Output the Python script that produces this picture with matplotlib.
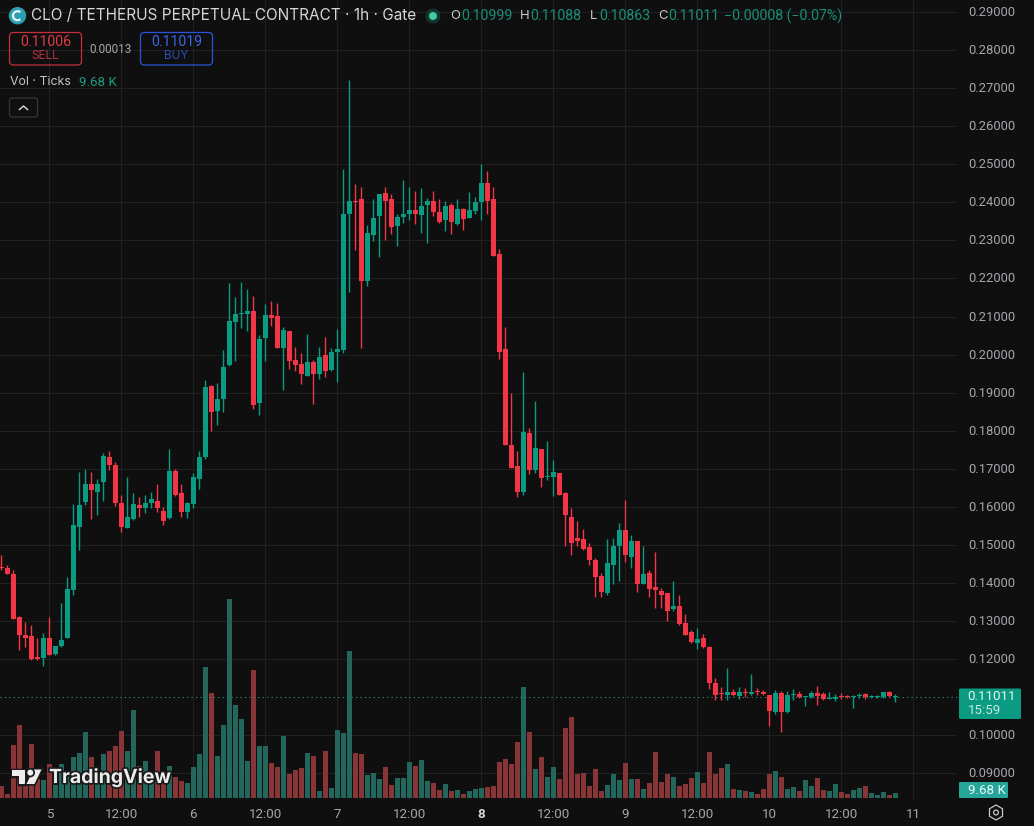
# CLO/USDT perpetual, 1h candles with volume, dark terminal style
import matplotlib
matplotlib.use('Agg')
import matplotlib.pyplot as plt
from matplotlib.patches import Circle, FancyBboxPatch, Polygon, Arc, RegularPolygon
from matplotlib.transforms import ScaledTranslation
import matplotlib.patheffects as pe
import numpy as np

plt.rcParams['font.family'] = ['Inter', 'DejaVu Sans']
NUM_FONT = ['Roboto', 'DejaVu Sans']  # tabular digits for prices

first_hour = -8  # hours relative to midnight of day 5

opens = [
    .1441, .1440, .1422, .1309, .1263, .1261, .1206, .1202, .1256, .1214,
    .1233, .1256, .1382, .1546, .1612, .1659, .1640, .1665, .1732, .1711,
    .1611, .1543, .1567, .1604, .1597, .1610, .1614, .1589, .1571, .1693,
    .1637, .1586, .1606, .1674, .1730, .1917, .1851, .1882, .1972, .2085,
    .2106, .2106, .2114, .1872, .2043, .2104, .2101, .2017, .2062, .1985,
    .1975, .1945, .1980, .1948, .1998, .1959, .2006, .2011, .2369, .2404,
    .2409, .2193, .2314, .2364, .2425, .2409, .2337, .2361, .2369, .2380,
    .2367, .2393, .2404, .2375, .2354, .2393, .2343, .2382, .2359, .2378,
    .2401, .2451, .2409, .2264, .2014, .1761, .1706, .1638, .1793, .1696,
    .1751, .1678, .1678, .1688, .1635, .1572, .1517, .1514, .1493, .1461,
    .1419, .1372, .1448, .1496, .1538, .1467, .1511, .1398, .1425, .1388,
    .1378, .1372, .1330, .1340, .1295, .1272, .1241, .1254, .1230, .1137,
    .1110, .1105, .1113, .1102, .1113, .1109, .1116, .1112, .1106, .1060,
    .1111, .1060, .1104, .1109, .1100, .1101, .1111, .1109, .1095, .1095,
    .1102, .1101, .1100, .1102, .1108, .1099, .1100, .1099, .1113, .10999,
]
closes = [
    .1439, .1423, .1305, .1262, .1256, .1200, .1200, .1256, .1211, .1235,
    .1251, .1385, .1551, .1604, .1659, .1643, .1661, .1733, .1709, .1609,
    .1546, .1572, .1606, .1598, .1611, .1620, .1597, .1563, .1695, .1630,
    .1586, .1609, .1677, .1730, .1914, .1848, .1882, .1967, .2088, .2106,
    .2109, .2114, .1867, .2040, .2104, .2096, .2016, .2064, .1982, .1972,
    .1948, .1980, .1948, .1993, .1956, .2006, .2014, .2369, .2404, .2400,
    .2193, .2319, .2359, .2422, .2404, .2335, .2361, .2369, .2380, .2369,
    .2390, .2404, .2375, .2348, .2390, .2348, .2382, .2356, .2380, .2401,
    .2451, .2404, .2259, .2006, .1761, .1701, .1638, .1796, .1696, .1754,
    .1675, .1680, .1691, .1632, .1577, .1506, .1509, .1490, .1461, .1414,
    .1375, .1451, .1496, .1538, .1472, .1509, .1398, .1422, .1383, .1380,
    .1367, .1327, .1338, .1292, .1264, .1244, .1253, .1230, .1137, .1106,
    .1107, .1113, .1104, .1113, .1111, .1111, .1114, .1109, .1062, .1111,
    .1060, .1106, .1109, .1101, .1103, .1111, .1103, .1095, .1097, .1101,
    .1099, .1099, .1103, .1104, .1099, .1102, .1103, .1112, .1102, .11011,
]
highs = [
    .1472, .1447, .1435, .1314, .1298, .1289, .1254, .1268, .1311, .1235,
    .1346, .1416, .1606, .1691, .1700, .1691, .1674, .1742, .1747, .1718,
    .1632, .1679, .1637, .1626, .1630, .1639, .1661, .1600, .1753, .1698,
    .1661, .1612, .1689, .1747, .1934, .1919, .1924, .2011, .2189, .2151,
    .2190, .2172, .2154, .2051, .2132, .2140, .2135, .2073, .2062, .2020,
    .2004, .2054, .1985, .2020, .2046, .2017, .2067, .2489, .2722, .2448,
    .2440, .2340, .2409, .2422, .2440, .2422, .2369, .2459, .2440, .2430,
    .2438, .2411, .2430, .2409, .2404, .2398, .2409, .2385, .2427, .2414,
    .2501, .2482, .2440, .2277, .2072, .1900, .1746, .1954, .1808, .1877,
    .1751, .1772, .1722, .1688, .1640, .1598, .1562, .1541, .1506, .1464,
    .1427, .1514, .1519, .1556, .1617, .1527, .1511, .1496, .1435, .1480,
    .1386, .1372, .1406, .1367, .1318, .1275, .1282, .1266, .1233, .1151,
    .1127, .1176, .1121, .1126, .1124, .1161, .1123, .1117, .1106, .1118,
    .1115, .1115, .1122, .1115, .1103, .1116, .1130, .1114, .1114, .1108,
    .1111, .1104, .1104, .1111, .1111, .1106, .1104, .1112, .1116, .11088,
]
lows = [
    .1435, .1423, .1304, .1223, .1230, .1198, .1197, .1181, .1211, .1209,
    .1232, .1256, .1369, .1486, .1604, .1567, .1577, .1614, .1696, .1602,
    .1533, .1543, .1565, .1574, .1583, .1597, .1586, .1552, .1569, .1628,
    .1572, .1570, .1598, .1646, .1726, .1800, .1814, .1848, .1969, .1982,
    .2069, .2061, .1856, .1840, .1982, .2075, .2016, .1906, .1961, .1956,
    .1922, .1943, .1869, .1937, .1941, .1957, .1927, .2005, .2165, .2275,
    .2017, .2180, .2298, .2256, .2301, .2316, .2285, .2346, .2354, .2343,
    .2319, .2293, .2364, .2346, .2325, .2316, .2340, .2327, .2359, .2370,
    .2354, .2369, .2259, .1988, .1761, .1701, .1625, .1630, .1685, .1688,
    .1652, .1669, .1627, .1632, .1496, .1472, .1496, .1485, .1448, .1364,
    .1364, .1367, .1396, .1406, .1454, .1438, .1377, .1398, .1364, .1335,
    .1335, .1300, .1325, .1290, .1262, .1243, .1225, .1228, .1122, .1091,
    .1091, .1091, .1102, .1095, .1100, .1105, .1106, .1104, .1023, .1056,
    .1007, .1058, .1091, .1097, .1075, .1097, .1079, .1093, .1095, .1090,
    .1095, .1096, .1072, .1098, .1095, .1096, .1098, .1097, .1100, .10863,
]
# tick volume, thousands
volumes = [
    24, 9, 109, 151, 24, 111, 40, 37, 70, 26,
    70, 57, 86, 93, 136, 84, 44, 91, 97, 107,
    138, 97, 182, 66, 76, 38, 97, 41, 66, 43,
    35, 32, 64, 91, 272, 218, 87, 151, 412, 193,
    164, 77, 266, 108, 108, 73, 65, 129, 50, 59,
    63, 94, 88, 15, 98, 21, 142, 135, 305, 94,
    92, 48, 52, 40, 65, 26, 42, 42, 75, 67,
    79, 36, 31, 17, 29, 15, 17, 8, 15, 19,
    21, 23, 25, 75, 81, 70, 116, 230, 137, 60,
    85, 44, 64, 39, 145, 168, 50, 52, 25, 60,
    15, 27, 50, 37, 73, 39, 39, 19, 31, 95,
    33, 50, 44, 25, 29, 41, 54, 31, 95, 50,
    62, 70, 19, 17, 15, 12, 8, 19, 50, 56,
    44, 19, 23, 15, 37, 25, 41, 17, 15, 29,
    12, 8, 17, 21, 25, 10, 6, 12, 6, 9.68,
]

price_ticks = [.29, .28, .27, .26, .25, .24, .23, .22, .21, .20,
               .19, .18, .17, .16, .15, .14, .13, .12, .11, .10, .09]
time_ticks = [0, 12, 24, 36, 48, 60, 72, 84, 96, 108, 120, 132, 144]
time_labels = ['5', '12:00', '6', '12:00', '7', '12:00', '8', '12:00',
               '9', '12:00', '10', '12:00', '11']
last_price = 0.11011

BG = '#0f0f0f'
GRID = '#202020'
UP = '#0b9b82'
DOWN = '#f23645'
UP_VOL = '#22665c'
DOWN_VOL = '#883538'
AXIS_TXT = '#a4a6ac'
W, H = 1034, 826

opens = np.array(opens)
closes = np.array(closes)
hours = first_hour + np.arange(len(opens))
rising = closes >= opens

fig = plt.figure(figsize=(W / 100, H / 100), dpi=100, facecolor=BG)
plot_right = 957 / W
plot_bottom = (H - 800) / H
ax = fig.add_axes([0, plot_bottom, plot_right, 1 - plot_bottom], facecolor=BG)
ax.set_xlim(-8.217, 151.28)
ax.set_ylim(.08291, .29321)
for s in ax.spines.values():
    s.set_visible(False)

# volume shares the pane, pinned to its bottom edge
vol_ax = ax.twinx()
vol_ax.set_ylim(-4.1, 1654)
vol_ax.axis('off')
vol_ax.set_zorder(1)
vol_colors = [UP_VOL if r else DOWN_VOL for r in rising]
vol_ax.bar(hours, volumes, width=0.86, color=vol_colors, linewidth=0)

# candles sit above the volume bars
price_ax = ax.twinx()
price_ax.set_ylim(ax.get_ylim())
price_ax.axis('off')
price_ax.set_zorder(2)
colors = [UP if r else DOWN for r in rising]
price_ax.vlines(hours, lows, highs, colors=colors, lw=1.0)
body_low = np.minimum(opens, closes)
body_h = np.maximum(np.abs(closes - opens), 0.00028)
price_ax.bar(hours, body_h, bottom=body_low, width=0.86, color=colors, linewidth=0)
price_ax.axhline(last_price, color='#2a9d85', lw=0.8, ls=(0, (1, 3)), zorder=0.5)

# twinx moves the price scale to the left, so set it up afterwards
ax.yaxis.tick_right()
ax.set_yticks([t for t in price_ticks if t != .11])
ax.set_yticklabels([f'{t:.5f}' for t in price_ticks if t != .11], family=NUM_FONT)
ax.set_xticks(time_ticks)
ax.set_xticklabels(time_labels, family=NUM_FONT)
ax.tick_params(axis='y', length=0, pad=8.3, labelsize=9.4, labelcolor=AXIS_TXT)
ax.tick_params(axis='x', length=0, pad=5.5, labelsize=9.6, labelcolor=AXIS_TXT)
nudge = ScaledTranslation(0, 1 / 100, fig.dpi_scale_trans)
for tick_label in ax.get_yticklabels():
    tick_label.set_transform(tick_label.get_transform() + nudge)
ax.get_xticklabels()[6].set_fontweight('bold')
ax.get_xticklabels()[6].set_color('#d8d8d8')
ax.grid(True, color=GRID, lw=0.8)
ax.set_axisbelow(True)

# header, badges and logo are laid out in pixels
ui = fig.add_axes([0, 0, 1, 1], facecolor='none')
ui.set_xlim(0, W)
ui.set_ylim(H, 0)
ui.axis('off')
ui.set_zorder(3)


def label(x, y, s, color, size, ha='left', **kw):
    ui.text(x, y, s, color=color, fontsize=size, ha=ha, va='center', **kw)


def badge(x0, y0, x1, y1, edge, face='none', r=4, lw=0.9):
    ui.add_patch(FancyBboxPatch((x0 + r, y0 + r), x1 - x0 - 2 * r, y1 - y0 - 2 * r,
                                boxstyle=f'round,pad={r},rounding_size={r}',
                                ec=edge, fc=face, lw=lw))


# symbol icon
ui.add_patch(Circle((17.5, 15.7), 8.7, fc='#2a9fb2', ec='none'))
ui.add_patch(Arc((17.5, 15.7), 9, 9, theta1=50, theta2=310, color='#e8f4f6', lw=1.6))
label(31, 16, 'CLO / TETHERUS PERPETUAL CONTRACT · 1h · Gate', '#d6d7da', 11.05)

# market-open dot
ui.add_patch(Circle((433, 16), 7.5, fc='#12352e', ec='none'))
ui.add_patch(Circle((433, 16), 4, fc='#3fc9a4', ec='none'))

ohlc_green = '#1a8f78'
ohlc_white = '#c9cbd0'
for x, s, c in [(450, 'O', ohlc_white), (520, 'H', ohlc_white),
                (590, 'L', ohlc_white), (658, 'C', ohlc_white)]:
    label(x, 16, s, c, 9.4)
for x, s in [(461, '0.10999'), (530, '0.11088'), (599, '0.10863'),
             (668, '0.11011'), (724, '−0.00008 (−0.07%)')]:
    label(x, 16, s, ohlc_green, 10.2, family=NUM_FONT)

# sell / buy badges
badge(9.5, 32.5, 81.5, 65, '#c5303e')
label(45.5, 41.5, '0.11006', '#e0394a', 10.2, ha='center', family=NUM_FONT)
label(45.5, 56, 'SELL', '#b93342', 8.5, ha='center')
label(110.5, 49.5, '0.00013', '#a8a9ad', 8.4, ha='center', family=NUM_FONT)
badge(140.5, 32.5, 212.5, 65, '#2a55d8')
label(176.5, 41.5, '0.11019', '#3a66e8', 10.2, ha='center', family=NUM_FONT)
label(176.5, 56, 'BUY', '#2a4db8', 8.5, ha='center')

label(10, 82, 'Vol · Ticks', '#c4c6cb', 8.9)
label(79, 82, '9.68 K', '#1f9a83', 9.6, family=NUM_FONT)

badge(9.5, 98, 37.5, 117, '#363636', r=2.5)
ui.plot([19.5, 23.5, 27.5], [109.5, 106, 109.5], color='#d0d0d0', lw=1.1)

# last price and volume tags
badge(959, 688.5, 1021, 719, UP, face=UP, r=1.5, lw=0)
label(967.5, 696.5, f'{last_price:.5f}', '#e6f5f1', 9.6, family=NUM_FONT)
label(967.5, 710.5, '15:59', '#c6ebe2', 9.6, family=NUM_FONT)
badge(959, 782, 1008, 798, '#26a69a', face='#26a69a', r=1, lw=0)
label(967.5, 790, '9.68 K', '#eafaf7', 9.6, family=NUM_FONT)

# settings gear
ui.add_patch(RegularPolygon((996, 812.5), 6, radius=7.5, fc='none', ec='#c8c8c8', lw=0.9))
ui.add_patch(Circle((996, 812.5), 2.4, fc='none', ec='#c8c8c8', lw=0.9))

# TradingView mark
halo = [pe.withStroke(linewidth=2.5, foreground='#1a1a1a')]
for poly in ([(12, 769.5), (25, 769.5), (25, 784), (18.5, 784), (18.5, 775.5), (12, 775.5)],
             [(33.5, 769.5), (41.5, 769.5), (34.5, 784), (26.5, 784)]):
    ui.add_patch(Polygon(poly, closed=True, fc='#ececec', ec='none', path_effects=halo))
ui.add_patch(Circle((30.3, 772.6), 3, fc='#ececec', ec='none', path_effects=halo))
label(49, 777.5, 'TradingView', '#ececec', 14, fontweight='bold', path_effects=halo)

fig.savefig('out.png', dpi=100, facecolor=BG)
